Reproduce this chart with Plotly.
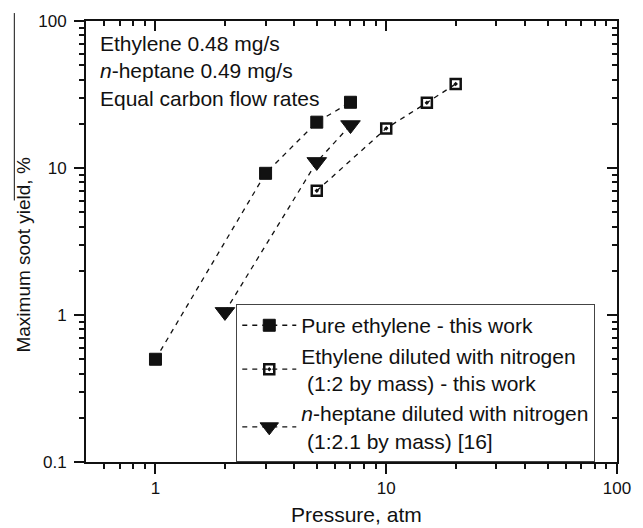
import plotly.graph_objects as go

# ---- data ----
pure_p = [1, 3, 5, 7]
pure_y = [0.5, 9.2, 20.5, 28.0]
dil_p = [5, 10, 15, 20]
dil_y = [7.0, 18.6, 27.8, 37.3]
hep_p = [2, 5, 7]
hep_y = [1.05, 11.0, 19.6]

names = [
    "Pure ethylene - this work",
    "Ethylene diluted with nitrogen<br>\u00a0(1:2 by mass) - this work",
    "<i>n</i>-heptane diluted with nitrogen<br>\u00a0(1:2.1 by mass) [16]",
]

x_major = [1, 10, 100]
x_major_text = ["1", "10", "100"]
y_major = [0.1, 1, 10, 100]
y_major_text = ["0.1", "1", "10", "100"]
x_minor = [0.6, 0.7, 0.8, 0.9, 2, 3, 4, 5, 6, 7, 8, 9, 20, 30, 40, 50, 60, 70, 80, 90]
y_minor = [0.2, 0.3, 0.4, 0.5, 0.6, 0.7, 0.8, 0.9, 2, 3, 4, 5, 6, 7, 8, 9,
           20, 30, 40, 50, 60, 70, 80, 90]

FONT = "Liberation Sans, Arial, sans-serif"
INK = "#111111"
DASH = "5px,5px"

fig = go.Figure()
fig.add_trace(go.Scatter(
    x=pure_p, y=pure_y, name=names[0], mode="lines+markers",
    line=dict(color=INK, width=1.3, dash=DASH),
    marker=dict(symbol="square", size=12, color=INK, line=dict(color=INK, width=1)),
))
fig.add_trace(go.Scatter(
    x=dil_p, y=dil_y, name=names[1], mode="lines+markers",
    line=dict(color=INK, width=1.3, dash=DASH),
    marker=dict(symbol="square-open-dot", size=10, color=INK, line=dict(color=INK, width=2.5)),
))
fig.add_trace(go.Scatter(
    x=hep_p, y=hep_y, name=names[2], mode="lines+markers",
    line=dict(color=INK, width=1.3, dash=DASH),
    marker=dict(symbol="triangle-down", size=17, color=INK, line=dict(color=INK, width=1)),
))
# empty helper trace so the mirrored (top/right) axes exist
fig.add_trace(go.Scatter(x=[None], y=[None], xaxis="x2", yaxis="y2",
                         showlegend=False, hoverinfo="skip"))

xr = [-0.30103, 2]
yr = [-1, 2]
common = dict(type="log", showgrid=False, zeroline=False, showline=True,
              linecolor=INK, linewidth=2, tickcolor=INK, tickwidth=1.5)

fig.update_layout(
    width=643, height=528,
    margin=dict(l=86, r=16, t=20, b=66),
    paper_bgcolor="white", plot_bgcolor="white",
    font=dict(family=FONT, color=INK, size=17),
    xaxis=dict(range=xr, tickmode="array", tickvals=x_major, ticktext=x_major_text,
               ticks="outside", ticklen=10, tickfont=dict(size=17),
               minor=dict(tickmode="array", tickvals=x_minor, ticks="outside",
                          ticklen=5, tickcolor=INK, tickwidth=1.5),
               **common),
    yaxis=dict(range=yr, tickmode="array", tickvals=y_major, ticktext=y_major_text,
               ticks="outside", ticklen=10, tickfont=dict(size=17),
               ticklabelstandoff=4,
               minor=dict(tickmode="array", tickvals=y_minor, ticks="outside",
                          ticklen=5, tickcolor=INK, tickwidth=1.5),
               **common),
    xaxis2=dict(range=xr, overlaying="x", side="top", anchor="y",
                tickmode="array", tickvals=x_major, showticklabels=False,
                ticks="inside", ticklen=10,
                minor=dict(tickmode="array", tickvals=x_minor, ticks="inside",
                           ticklen=5, tickcolor=INK, tickwidth=1.5),
                **common),
    yaxis2=dict(range=yr, overlaying="y", side="right", anchor="x",
                tickmode="array", tickvals=y_major, showticklabels=False,
                ticks="inside", ticklen=10,
                minor=dict(tickmode="array", tickvals=y_minor, ticks="inside",
                           ticklen=5, tickcolor=INK, tickwidth=1.5),
                **common),
    legend=dict(x=0.283, y=0.358, xanchor="left", yanchor="top",
                bgcolor="white", bordercolor="#444444", borderwidth=1,
                font=dict(size=21, family=FONT, color=INK),
                itemwidth=54, tracegroupgap=0),
    showlegend=True,
)

# axis titles
fig.add_annotation(text="Pressure, atm", xref="paper", yref="paper",
                   x=0.51, y=-0.12, xanchor="center", yanchor="middle",
                   showarrow=False, font=dict(size=21))
fig.add_annotation(text="Maximum soot yield, %", xref="paper", yref="paper",
                   x=-0.118, y=0.6946, xanchor="center", yanchor="top",
                   textangle=-90, showarrow=False, font=dict(size=19))
# overline seen over part of the y title
fig.add_shape(type="line", xref="paper", yref="paper",
              x0=-0.135, x1=-0.135, y0=1.018, y1=0.593,
              line=dict(color=INK, width=1))

# inset text
fig.add_annotation(
    text="Ethylene 0.48 mg/s<br><i>n</i>-heptane 0.49 mg/s<br>Equal carbon flow rates",
    xref="paper", yref="paper", x=0.022, y=0.98, xanchor="left", yanchor="top",
    align="left", showarrow=False, font=dict(size=21))

fig.write_html("out.html")
